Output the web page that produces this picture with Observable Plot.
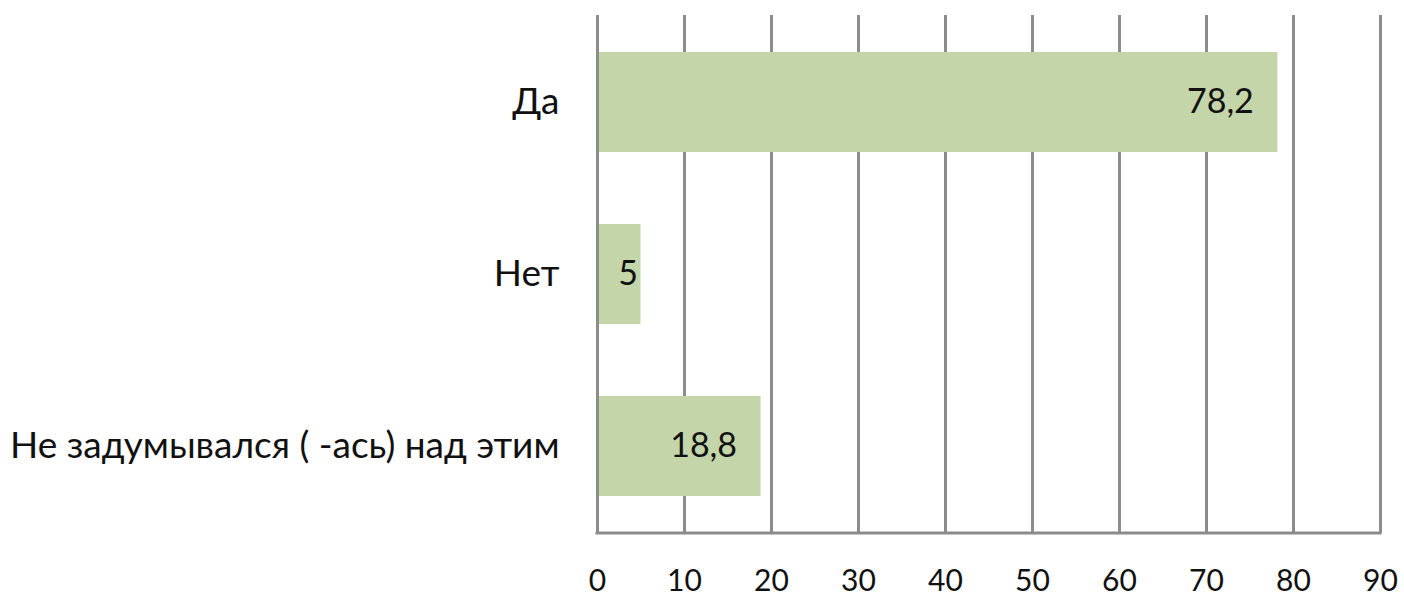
<!DOCTYPE html>
<html>
<head>
<meta charset="utf-8">
<script src="https://cdn.jsdelivr.net/npm/d3@7"></script>
<script src="https://cdn.jsdelivr.net/npm/@observablehq/plot@0.6"></script>
<style>
  html, body { margin: 0; padding: 0; background: #fff; }
  #chart svg { display: block; }
</style>
</head>
<body>
<div id="chart"></div>
<script>
const categories = ["Да", "Нет", "Не задумывался ( -ась) над этим"];
const values = [78.2, 5, 18.8];
const valueLabels = ["78,2", "5", "18,8"];
const xTicks = [0, 10, 20, 30, 40, 50, 60, 70, 80, 90];

const data = categories.map((c, i) => ({category: c, value: values[i], label: valueLabels[i]}));
const gridColor = "#8c8c8c";
const font = "Lato, 'Open Sans', sans-serif";

const bottomLine = (index, scales, values, dims) => {
  const y = dims.height - dims.marginBottom;
  const x1 = scales.x(xTicks[0]);
  const x2 = scales.x(xTicks[xTicks.length - 1]);
  return d3.create("svg:line")
    .attr("x1", x1 - 1.5).attr("x2", x2 + 1.5)
    .attr("y1", y).attr("y2", y)
    .attr("stroke", gridColor).attr("stroke-width", 3)
    .node();
};

const chart = Plot.plot({
  width: 1404,
  height: 600,
  marginLeft: 597,
  marginRight: 24,
  marginTop: 15,
  marginBottom: 67,
  style: {fontFamily: font, background: "#fff", color: "#111"},
  x: {domain: [0, 90], ticks: xTicks},
  y: {domain: categories, paddingInner: 0.42, paddingOuter: 0.21},
  marks: [
    Plot.ruleX(xTicks.slice(1), {stroke: gridColor, strokeWidth: 3, strokeOpacity: 1}),
    Plot.barX(data, {y: "category", x: "value", fill: "#c4d5a9"}),
    Plot.ruleX([0], {stroke: gridColor, strokeWidth: 3}),
    bottomLine,
    Plot.text(data.filter(d => d.value >= 10), {y: "category", x: "value", text: "label", textAnchor: "end", dx: -24, fontSize: 34, fill: "#111"}),
    Plot.text(data.filter(d => d.value < 10), {y: "category", x: "value", text: "label", textAnchor: "end", dx: -3, fontSize: 34, fill: "#111"}),
    Plot.axisX({ticks: xTicks, tickSize: 0, tickPadding: 36, fontSize: 30, label: null, tickFormat: d => String(d)}),
    Plot.axisY({tickSize: 0, tickPadding: 38, fontSize: 37, label: null})
  ]
});
document.getElementById("chart").appendChild(chart);
</script>
</body>
</html>
